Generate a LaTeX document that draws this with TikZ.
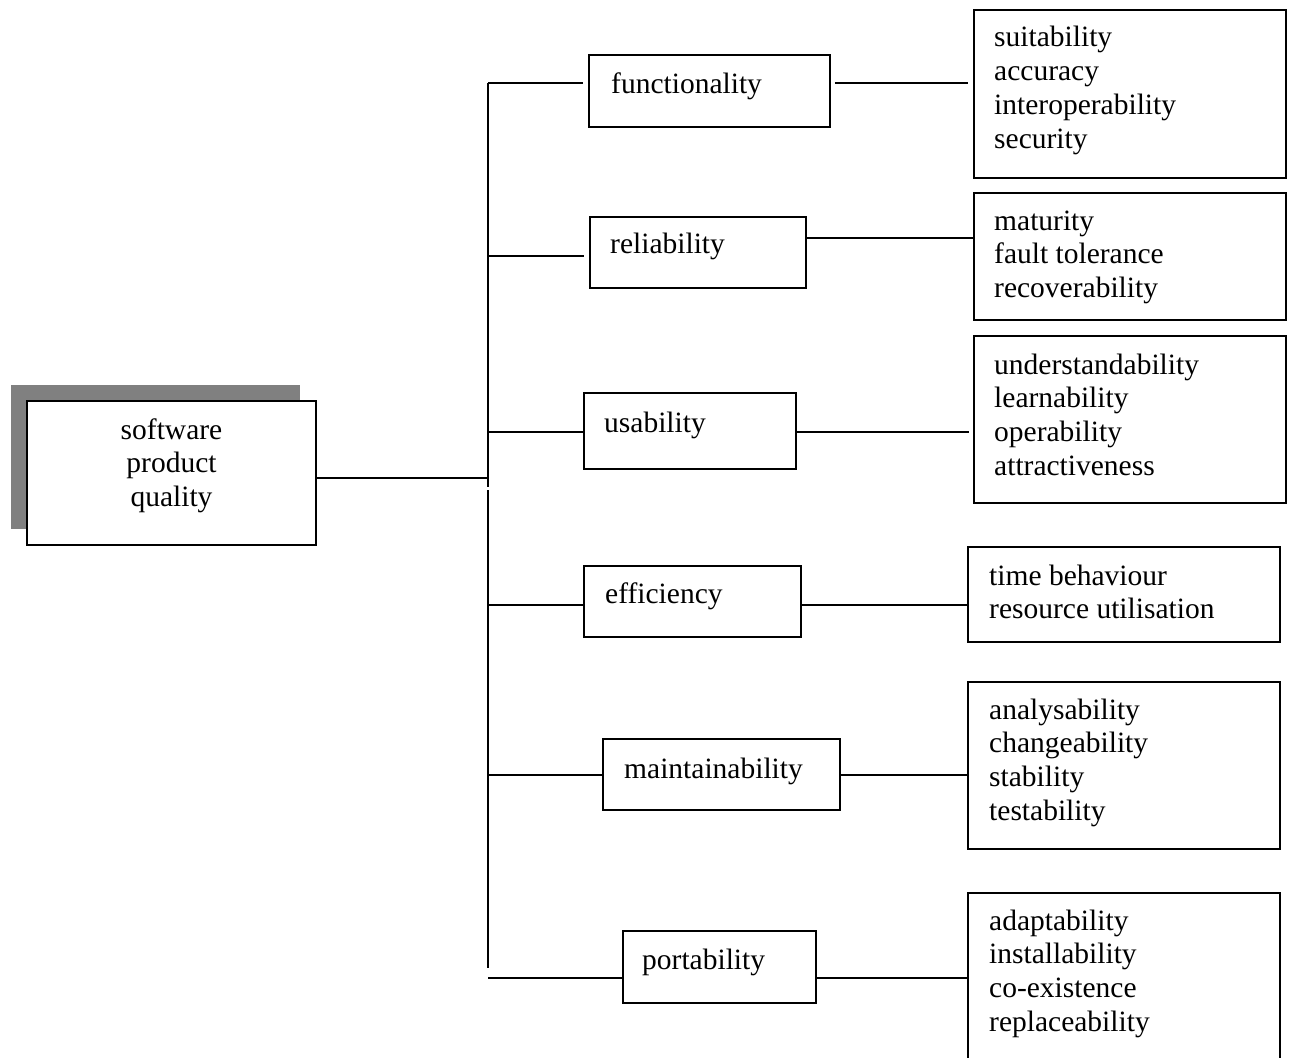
\documentclass[tikz,border=0pt]{standalone}
\usepackage{fontspec}
\setmainfont{Liberation Serif}
\definecolor{shadowgray}{RGB}{128,128,128}
\begin{document}
\begin{tikzpicture}[x=1pt,y=-1pt,
  box/.style={draw=black, line width=1.8pt, fill=white, inner sep=0pt, rectangle},
  shadowbox/.style={fill=shadowgray, inner sep=0pt, rectangle},
  txt/.style={inner sep=0pt, font=\fontsize{29.5}{33.7}\selectfont, anchor=base west},
  conn/.style={line width=1.6pt, line cap=butt}
]
\useasboundingbox (0,0) rectangle (1289,1057);
\fill[white] (0,0) rectangle (1289,1057);
\clip (0,0) rectangle (1289,1057);

% root with shadow
\node[shadowbox, minimum width=289, minimum height=144] (shadow) at (155.5,457) {};
\node[box, minimum width=289, minimum height=144] (root) at (171.5,473) {};
\node[txt, anchor=base] (roott) at (171.5,439) {\begin{tabular}[t]{@{}c@{}}software\\product\\quality\end{tabular}};

% middle boxes
\node[box, minimum width=241, minimum height=72] (F) at (709.5,91) {};
\node[txt] (Ft) at (611,93) {functionality};
\node[box, minimum width=216, minimum height=71] (R) at (698,252.5) {};
\node[txt] (Rt) at (610,253) {reliability};
\node[box, minimum width=212, minimum height=76] (U) at (690,431) {};
\node[txt] (Ut) at (604,432) {usability};
\node[box, minimum width=217, minimum height=71] (E) at (692.5,601.5) {};
\node[txt] (Et) at (605,603) {efficiency};
\node[box, minimum width=237, minimum height=71] (M) at (721.5,774.5) {};
\node[txt] (Mt) at (624,778) {maintainability};
\node[box, minimum width=193, minimum height=72] (P) at (719.5,967) {};
\node[txt] (Pt) at (642,969) {portability};

% right boxes
\node[box, minimum width=312, minimum height=168] (FS) at (1130,94) {};
\node[txt] (FSt) at (994,47) {\begin{tabular}[t]{@{}l@{}}suitability\\accuracy\\interoperability\\security\end{tabular}};
\node[box, minimum width=312, minimum height=127] (RS) at (1130,256.5) {};
\node[txt] (RSt) at (994,230) {\begin{tabular}[t]{@{}l@{}}maturity\\fault tolerance\\recoverability\end{tabular}};
\node[box, minimum width=312, minimum height=167] (US) at (1130,419.5) {};
\node[txt] (USt) at (994,374) {\begin{tabular}[t]{@{}l@{}}understandability\\learnability\\operability\\attractiveness\end{tabular}};
\node[box, minimum width=312, minimum height=95] (ES) at (1124,594.5) {};
\node[txt] (ESt) at (989,585) {\begin{tabular}[t]{@{}l@{}}time behaviour\\resource utilisation\end{tabular}};
\node[box, minimum width=312, minimum height=167] (MS) at (1124,765.5) {};
\node[txt] (MSt) at (989,719) {\begin{tabular}[t]{@{}l@{}}analysability\\changeability\\stability\\testability\end{tabular}};
\node[box, minimum width=312, minimum height=177] (PS) at (1124,981.5) {};
\node[txt] (PSt) at (989,930) {\begin{tabular}[t]{@{}l@{}}adaptability\\installability\\co-existence\\replaceability\end{tabular}};

% trunk
\coordinate (ttop) at (488,83);
\coordinate (tgapa) at (488,487);
\coordinate (tgapb) at (488,490);
\coordinate (tbot) at (488,968);
\coordinate (tmid) at (488,478);
\coordinate (bR) at (488,256);
\coordinate (bU) at (488,432);
\coordinate (bE) at (488,605);
\coordinate (bM) at (488,775);
\coordinate (bP) at (488,978);
\draw[conn] (ttop) -- (tgapa);
\draw[conn] (tgapb) -- (tbot);
\draw[conn] (root.east |- tmid) -- (tmid);

% branches
\draw[conn, shorten >=5pt] (ttop) -- (F.west |- ttop);
\draw[conn, shorten >=5pt] (bR) -- (R.west |- bR);
\draw[conn] (bU) -- (U.west |- bU);
\draw[conn] (bE) -- (E.west |- bE);
\draw[conn] (bM) -- (M.west |- bM);
\draw[conn] (bP) -- (P.west |- bP);

% right connectors
\coordinate (cF) at (0,83);
\coordinate (cR) at (0,238);
\coordinate (cU) at (0,432);
\coordinate (cE) at (0,605);
\coordinate (cM) at (0,775);
\coordinate (cP) at (0,978);
\draw[conn, shorten <=4pt, shorten >=5pt] (F.east |- cF) -- (FS.west |- cF);
\draw[conn] (R.east |- cR) -- (RS.west |- cR);
\draw[conn, shorten >=4pt] (U.east |- cU) -- (US.west |- cU);
\draw[conn] (E.east |- cE) -- (ES.west |- cE);
\draw[conn] (M.east |- cM) -- (MS.west |- cM);
\draw[conn] (P.east |- cP) -- (PS.west |- cP);
\end{tikzpicture}
\end{document}
